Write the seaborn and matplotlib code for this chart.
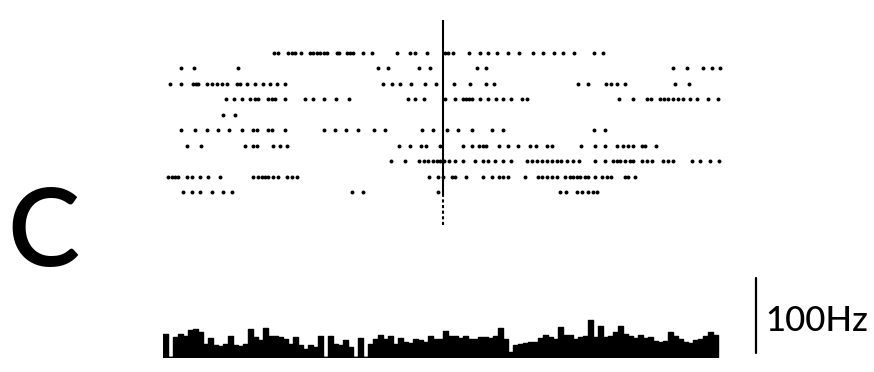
import numpy as np
import pandas as pd
import matplotlib
matplotlib.use("Agg")
import matplotlib.pyplot as plt
import seaborn as sns

# ---------------- data ----------------
# spike times (ms, relative to stimulus at 0) for each of 10 trials
trial_1 = [-169, -165, -155, -151, -148, -142, -133, -130, -126, -123, -119, -116, -106, -104,
           -96, -93, -90, -80, -71, -46, -33, -28, -16, 2, 5, 10, 26, 37, 45, 54, 65, 76, 90,
           100, 111, 120, 131, 151, 160]
trial_2 = [-262, -249, -205, -65, -55, -24, -13, 34, 43, 230, 244, 260, 269, 277]
trial_3 = [-273, -262, -250, -247, -245, -236, -231, -226, -221, -216, -206, -203, -196, -188,
           -180, -173, -166, -158, -60, -51, -43, -32, -18, -7, 11, 27, 43, 51, 135, 145, 163,
           168, 174, 182, 232, 246]
trial_4 = [-217, -209, -201, -193, -188, -185, -175, -171, -168, -158, -138, -130, -119, -107,
           -94, -35, -28, -19, 2, 12, 20, 23, 26, 29, 37, 45, 53, 60, 68, 79, 84, 176, 190, 204,
           208, 217, 221, 225, 230, 235, 240, 247, 254, 265, 275]
trial_5 = [-220, -208]
trial_6 = [-262, -248, -236, -225, -214, -201, -190, -186, -175, -171, -158, -119, -108, -97,
           -85, -69, -58, -21, -10, 4, 15, 29, 49, 60, 151, 162]
trial_7 = [-256, -242, -198, -190, -186, -170, -163, -156, -44, -33, -22, -17, -3, 20, 29, 36,
           40, 43, 56, 65, 75, 87, 93, 104, 109, 138, 152, 162, 174, 180, 185, 190, 199, 202, 213]
trial_8 = [-52, -38, -24, -19, -15, -10, -6, -3, 1, 6, 12, 20, 32, 40, 45, 52, 60, 68, 84, 89,
           94, 99, 104, 109, 114, 118, 124, 130, 136, 152, 162, 170, 174, 177, 182, 187, 190,
           199, 204, 209, 220, 225, 230, 249, 257, 267, 276]
trial_9 = [-275, -271, -268, -265, -256, -251, -243, -235, -223, -190, -185, -181, -178, -175,
           -170, -165, -156, -151, -146, -14, -5, 0, 9, 12, 23, 40, 49, 56, 60, 65, 82, 95, 99,
           104, 109, 114, 122, 127, 130, 134, 137, 142, 145, 152, 159, 164, 168, 182, 185, 192]
trial_10 = [-260, -251, -243, -231, -220, -211, -91, -80, -5, 117, 123, 134, 139, 145, 150, 154]

trials = [trial_1, trial_2, trial_3, trial_4, trial_5, trial_6, trial_7, trial_8, trial_9, trial_10]

# PSTH: 5-ms bins from -280 ms to +275 ms, firing rate in Hz
bin_start = -280
bin_width = 5
rate_hz = [30, 0, 26, 30, 27, 35, 36, 32, 17, 25, 16, 14, 17, 27, 16, 14, 17, 36, 26, 22,
           38, 27, 27, 26, 23, 17, 26, 16, 10, 16, 13, 27, 0, 27, 17, 16, 22, 13, 0, 25,
           0, 17, 23, 29, 23, 27, 17, 25, 19, 18, 23, 22, 19, 27, 23, 23, 34, 27, 27, 25,
           27, 23, 23, 26, 26, 25, 27, 38, 23, 6, 16, 17, 18, 19, 19, 25, 29, 26, 23, 39,
           29, 29, 23, 26, 27, 48, 26, 40, 26, 27, 32, 40, 30, 27, 25, 29, 25, 26, 21, 19,
           21, 32, 27, 23, 19, 18, 22, 23, 27, 32, 29]

scale_hz = 100
scale_label = "100Hz"
panel_label = "C"

# ---------------- build tables ----------------
raster = pd.DataFrame({
    "trial": np.concatenate([[i + 1] * len(t) for i, t in enumerate(trials)]),
    "time": np.concatenate(trials),
})
n_bins = len(rate_hz)
bin_end = bin_start + bin_width * n_bins
centers = bin_start + bin_width * (np.arange(n_bins) + 0.5)
psth = pd.DataFrame({"time": centers, "rate": rate_hz})

# ---------------- figure ----------------
sns.set_style("white")
plt.rcParams["font.family"] = ["Lato", "DejaVu Sans"]

W, H = 874, 372
fig = plt.figure(figsize=(W / 100, H / 100), dpi=100)

xlim = (-280, 431)
ax_r = fig.add_axes([163 / W, (H - 225) / H, (W - 163) / W, 205 / H])
ax_h = fig.add_axes([163 / W, (H - 357) / H, (W - 163) / W, 77 / H])

sns.scatterplot(data=raster, x="time", y="trial", ax=ax_r, color="black",
                marker="o", s=8, linewidth=0, legend=False)
ax_r.set_xlim(*xlim)
ax_r.set_ylim(12.14, -1.14)
ax_r.axvline(0, ymin=0.15, ymax=1.0, color="black", lw=1.5)
ax_r.axvline(0, ymin=0.0, ymax=0.15, color="black", lw=1.5, ls=(0, (1.5, 1.2)))
ax_r.axis("off")

sns.histplot(data=psth, x="time", weights="rate", binwidth=bin_width,
             binrange=(bin_start, bin_end), element="step",
             fill=True, color="black", alpha=1, linewidth=1.0, ax=ax_h)
ax_h.set_xlim(*xlim)
ax_h.set_ylim(0, scale_hz)
ax_h.plot([313, 313], [5, scale_hz + 3], color="black", lw=1.6, clip_on=False)
ax_h.text(322, 33.5, scale_label, fontsize=25, fontweight="medium", ha="left",
          va="baseline", color="black")
ax_h.axis("off")

fig.text(43 / W, (H - 235) / H, panel_label, fontsize=78, fontweight="semibold",
         ha="center", va="center", color="black")

fig.savefig("out.png", dpi=100, facecolor="white")
